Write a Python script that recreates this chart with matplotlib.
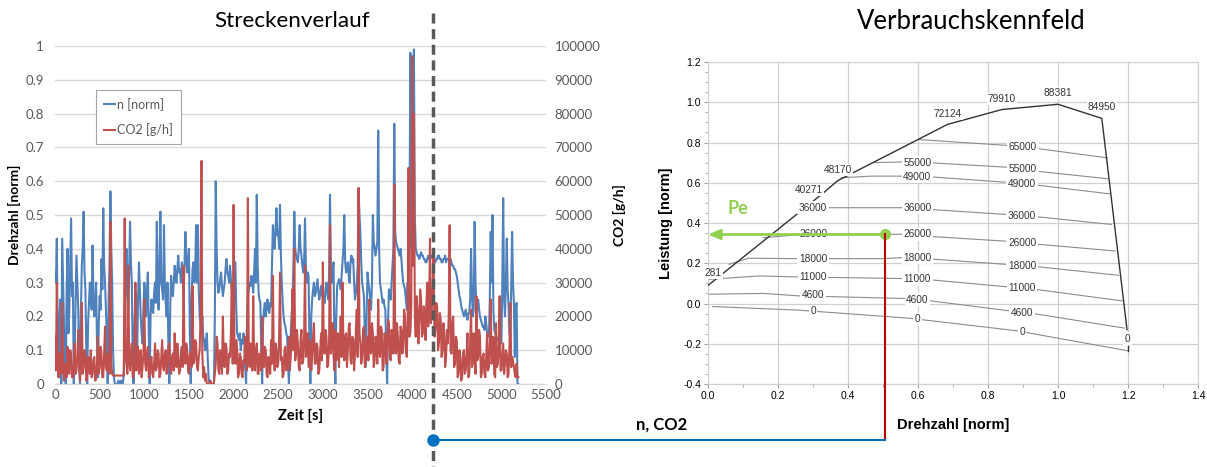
#!/usr/bin/env python3

import matplotlib
matplotlib.use("Agg")
import matplotlib.pyplot as plt
import numpy as np
from matplotlib.lines import Line2D

# Streckenverlauf: Abtastung alle 10 s (eine Zeile = 200 s)
zeit_schritt = 10
n_norm = [
    0.33, 0.30, 0.43, 0.10, 0.02, 0.20, 0.25, 0.00, 0.43, 0.30, 0.18, 0.05, 0.00, 0.28, 0.40, 0.15, 0.22, 0.35, 0.49, 0.26,
    0.30, 0.00, 0.08, 0.25, 0.38, 0.30, 0.22, 0.05, 0.00, 0.22, 0.35, 0.40, 0.51, 0.33, 0.28, 0.10, 0.00, 0.18, 0.24, 0.30,
    0.27, 0.22, 0.41, 0.26, 0.20, 0.24, 0.30, 0.12, 0.02, 0.18, 0.26, 0.22, 0.37, 0.28, 0.52, 0.35, 0.30, 0.22, 0.15, 0.00,
    0.25, 0.35, 0.57, 0.40, 0.30, 0.10, 0.02, 0.00, 0.00, 0.00, 0.00, 0.01, 0.00, 0.00, 0.01, 0.00, 0.00, 0.03, 0.12, 0.30,
    0.40, 0.28, 0.22, 0.33, 0.48, 0.36, 0.30, 0.08, 0.00, 0.18, 0.27, 0.20, 0.10, 0.25, 0.36, 0.28, 0.20, 0.15, 0.12, 0.22,
    0.30, 0.26, 0.20, 0.28, 0.33, 0.15, 0.00, 0.20, 0.25, 0.22, 0.21, 0.27, 0.30, 0.24, 0.48, 0.30, 0.22, 0.35, 0.51, 0.30,
    0.28, 0.25, 0.47, 0.30, 0.24, 0.20, 0.30, 0.10, 0.00, 0.22, 0.32, 0.28, 0.26, 0.30, 0.35, 0.32, 0.30, 0.34, 0.38, 0.33,
    0.34, 0.30, 0.36, 0.32, 0.28, 0.35, 0.45, 0.38, 0.33, 0.36, 0.40, 0.15, 0.00, 0.25, 0.34, 0.36, 0.30, 0.33, 0.47, 0.30,
    0.47, 0.28, 0.20, 0.18, 0.16, 0.20, 0.14, 0.13, 0.10, 0.12, 0.15, 0.08, 0.02, 0.00, 0.00, 0.00, 0.00, 0.00, 0.00, 0.20,
    0.60, 0.40, 0.30, 0.27, 0.28, 0.31, 0.33, 0.29, 0.26, 0.28, 0.30, 0.34, 0.37, 0.33, 0.32, 0.30, 0.35, 0.31, 0.28, 0.30,
    0.28, 0.32, 0.36, 0.22, 0.15, 0.14, 0.13, 0.15, 0.10, 0.13, 0.12, 0.15, 0.14, 0.05, 0.00, 0.18, 0.26, 0.28, 0.30, 0.29,
    0.32, 0.30, 0.27, 0.33, 0.40, 0.30, 0.56, 0.35, 0.27, 0.25, 0.24, 0.10, 0.00, 0.18, 0.22, 0.24, 0.20, 0.23, 0.25, 0.22,
    0.21, 0.24, 0.23, 0.35, 0.47, 0.42, 0.40, 0.46, 0.52, 0.44, 0.45, 0.40, 0.53, 0.38, 0.30, 0.24, 0.20, 0.18, 0.17, 0.15,
    0.14, 0.06, 0.00, 0.10, 0.15, 0.20, 0.25, 0.35, 0.51, 0.40, 0.38, 0.37, 0.36, 0.40, 0.47, 0.40, 0.38, 0.35, 0.33, 0.36,
    0.49, 0.35, 0.30, 0.33, 0.32, 0.12, 0.00, 0.20, 0.25, 0.28, 0.30, 0.26, 0.27, 0.29, 0.31, 0.27, 0.25, 0.27, 0.29, 0.26,
    0.27, 0.25, 0.24, 0.28, 0.30, 0.27, 0.25, 0.33, 0.56, 0.35, 0.30, 0.34, 0.36, 0.10, 0.00, 0.20, 0.29, 0.30, 0.31, 0.30,
    0.28, 0.32, 0.36, 0.40, 0.50, 0.36, 0.33, 0.35, 0.36, 0.32, 0.30, 0.36, 0.38, 0.36, 0.37, 0.30, 0.25, 0.27, 0.30, 0.35,
    0.58, 0.50, 0.45, 0.36, 0.30, 0.28, 0.26, 0.15, 0.05, 0.20, 0.33, 0.30, 0.28, 0.25, 0.22, 0.30, 0.50, 0.42, 0.40, 0.38,
    0.40, 0.42, 0.75, 0.40, 0.30, 0.28, 0.26, 0.24, 0.25, 0.23, 0.22, 0.10, 0.00, 0.18, 0.28, 0.27, 0.25, 0.30, 0.35, 0.40,
    0.77, 0.45, 0.42, 0.41, 0.40, 0.39, 0.38, 0.40, 0.37, 0.33, 0.30, 0.29, 0.28, 0.25, 0.22, 0.30, 0.20, 0.45, 0.98, 0.40,
    0.45, 0.60, 0.99, 0.50, 0.40, 0.39, 0.38, 0.38, 0.37, 0.38, 0.39, 0.38, 0.38, 0.37, 0.37, 0.36, 0.36, 0.37, 0.38, 0.37,
    0.37, 0.38, 0.38, 0.37, 0.37, 0.36, 0.36, 0.37, 0.37, 0.38, 0.38, 0.37, 0.37, 0.36, 0.36, 0.37, 0.37, 0.38, 0.36, 0.37,
    0.37, 0.37, 0.36, 0.37, 0.36, 0.35, 0.35, 0.34, 0.34, 0.33, 0.32, 0.30, 0.28, 0.26, 0.25, 0.23, 0.22, 0.21, 0.20, 0.21,
    0.22, 0.20, 0.19, 0.21, 0.21, 0.25, 0.40, 0.28, 0.20, 0.22, 0.48, 0.30, 0.22, 0.24, 0.25, 0.22, 0.20, 0.19, 0.18, 0.17,
    0.17, 0.16, 0.20, 0.18, 0.15, 0.15, 0.14, 0.25, 0.45, 0.30, 0.50, 0.22, 0.16, 0.15, 0.14, 0.13, 0.13, 0.14, 0.15, 0.12,
    0.12, 0.30, 0.55, 0.25, 0.20, 0.30, 0.43, 0.28, 0.23, 0.15, 0.14, 0.30, 0.45, 0.30, 0.24, 0.08, 0.22, 0.24, 0.00, 0.00,
]
co2_gh = [
    14000, 4000, 30000, 6000, 2000, 9000, 8000, 3000, 24000, 7000, 1000, 5000, 6000, 2000, 11000, 4000, 3000, 10000, 9000, 2000,
    2000, 6000, 12000, 3000, 4000, 8000, 16000, 5000, 1000, 7000, 24000, 3000, 5000, 10000, 9000, 1000, 2000, 8000, 7000, 3000,
    10000, 2000, 3000, 7000, 8000, 1000, 1500, 6000, 14000, 3000, 5000, 11000, 9000, 2000, 2000, 9000, 17000, 5000, 4000, 8000,
    9000, 3000, 48000, 6000, 3000, 2500, 2500, 2500, 2500, 2500, 2500, 2500, 2500, 2500, 2500, 2500, 2500, 2500, 49000, 8000,
    6000, 3000, 35000, 7000, 4000, 9000, 12000, 2000, 2000, 6000, 30000, 4000, 8000, 11000, 3000, 5000, 10000, 2000, 5000, 9000,
    25000, 6000, 4000, 9000, 11000, 2000, 3000, 7000, 8000, 3000, 2000, 6000, 12000, 4000, 5000, 10000, 9000, 2000, 3000, 8000,
    13000, 5000, 4000, 9000, 10000, 3000, 6000, 11000, 12000, 4000, 3000, 8000, 9000, 4000, 15000, 6000, 5000, 12000, 8000, 3000,
    4000, 9000, 11000, 5000, 35000, 8000, 6000, 12000, 10000, 4000, 3000, 9000, 9000, 5000, 29000, 6000, 7000, 13000, 12000, 5000,
    4000, 8000, 10000, 20000, 66000, 9000, 2000, 5000, 1000, 3000, 0, 0, 0, 0, 1000, 0, 0, 0, 500, 3000,
    6000, 14000, 12000, 4000, 3000, 10000, 9000, 3000, 20000, 7000, 5000, 12000, 11000, 3000, 4000, 9000, 8000, 15000, 30000, 6000,
    53000, 9000, 6000, 13000, 10000, 2000, 3000, 9000, 8000, 3000, 2000, 7000, 6000, 14000, 12000, 4000, 55000, 8000, 5000, 12000,
    9000, 4000, 26000, 7000, 4000, 10000, 12000, 3000, 3000, 9000, 8000, 4000, 20000, 6000, 5000, 11000, 10000, 3000, 2000, 8000,
    7000, 3000, 13000, 6000, 32000, 9000, 4000, 12000, 10000, 5000, 6000, 14000, 33000, 7000, 8000, 2000, 3000, 10000, 11000, 4000,
    5000, 11000, 14000, 4000, 8000, 15000, 28000, 10000, 40000, 7000, 9000, 16000, 12000, 5000, 4000, 13000, 16000, 6000, 7000, 14000,
    35000, 8000, 10000, 15000, 5000, 9000, 13000, 4000, 8000, 14000, 18000, 6000, 6000, 12000, 11000, 3000, 4000, 10000, 15000, 7000,
    36000, 10000, 9000, 16000, 14000, 5000, 6000, 13000, 47000, 9000, 12000, 18000, 8000, 4000, 16000, 7000, 10000, 15000, 5000, 12000,
    20000, 8000, 30000, 12000, 7000, 14000, 15000, 5000, 10000, 17000, 18000, 7000, 6000, 14000, 13000, 4000, 9000, 16000, 22000, 8000,
    58000, 15000, 12000, 6000, 8000, 16000, 17000, 5000, 6000, 13000, 14000, 7000, 25000, 10000, 9000, 18000, 15000, 5000, 7000, 14000,
    12000, 6000, 25000, 10000, 8000, 17000, 16000, 4000, 5000, 15000, 14000, 6000, 10000, 19000, 18000, 8000, 7000, 16000, 13000, 9000,
    59000, 12000, 9000, 18000, 14000, 7000, 6000, 17000, 16000, 9000, 11000, 22000, 20000, 10000, 8000, 19000, 64000, 14000, 15000, 23000,
    97000, 35000, 80000, 20000, 14000, 26000, 22000, 12000, 18000, 28000, 25000, 14000, 15000, 23000, 20000, 13000, 24000, 30000, 17000, 22000,
    43000, 18000, 22000, 28000, 40000, 14000, 16000, 24000, 23000, 10000, 12000, 21000, 19000, 8000, 10000, 18000, 15000, 5000, 8000, 16000,
    12000, 20000, 47000, 10000, 9000, 18000, 20000, 5000, 6000, 14000, 13000, 2000, 3000, 10000, 8000, 1000, 2000, 9000, 10000, 3000,
    4000, 9000, 15000, 2000, 3000, 12000, 22000, 5000, 6000, 15000, 10000, 3000, 26000, 7000, 8000, 16000, 14000, 2000, 3000, 8000,
    9000, 3000, 2000, 8000, 15000, 4000, 5000, 12000, 25000, 6000, 8000, 14000, 3000, 2000, 18000, 5000, 6000, 11000, 26000, 4000,
    4000, 8000, 12000, 3000, 6000, 10000, 9000, 2000, 3000, 11000, 24000, 5000, 8000, 7000, 5000, 3000, 2000, 6000, 2000, 2000,
]
zeit_s = np.arange(len(n_norm)) * zeit_schritt
zeit_marke = 4230  # gestrichelte Trennlinie

# Verbrauchskennfeld: Volllastkurve
vl_n = [0.0, 0.33, 0.37, 0.60, 0.684, 0.84, 1.0, 1.125, 1.197]
vl_p = [0.09, 0.55, 0.61, 0.815, 0.89, 0.964, 0.99, 0.92, -0.13]
vl_text = ["281", "40271", "48170", "72124", "79910", "88381", "84950"]
vl_text_n = [0.015, 0.287, 0.37, 0.684, 0.84, 1.0, 1.125]
vl_text_p = [0.154, 0.565, 0.665, 0.942, 1.017, 1.046, 0.975]

# Kennlinien gleichen Verbrauchs
kl_stufe = [65000, 55000, 49000, 36000, 26000, 18000, 11000, 4600, 0]
kl_n = [
    [0.60, 0.86, 0.95, 1.14],
    [0.47, 0.55, 0.647, 0.848, 0.946, 1.142],
    [0.38, 0.467, 0.55, 0.647, 0.848, 0.946, 1.147],
    [0.26, 0.343, 0.555, 0.647, 0.848, 0.946, 1.152],
    [0.158, 0.26, 0.343, 0.555, 0.647, 0.848, 0.946, 1.163],
    [0.06, 0.116, 0.26, 0.498, 0.555, 0.647, 0.848, 0.946, 1.173],
    [0.0, 0.147, 0.26, 0.555, 0.647, 0.848, 0.946, 1.183],
    [0.0, 0.158, 0.26, 0.565, 0.637, 0.859, 0.941, 1.189],
    [0.013, 0.26, 0.575, 0.88, 1.2],
]
kl_p = [
    [0.815, 0.785, 0.768, 0.724],
    [0.70, 0.703, 0.698, 0.678, 0.656, 0.62],
    [0.625, 0.633, 0.633, 0.628, 0.603, 0.587, 0.545],
    [0.475, 0.476, 0.476, 0.466, 0.443, 0.43, 0.393],
    [0.327, 0.342, 0.344, 0.344, 0.332, 0.31, 0.294, 0.261],
    [0.195, 0.225, 0.223, 0.223, 0.228, 0.22, 0.195, 0.182, 0.14],
    [0.12, 0.137, 0.132, 0.124, 0.116, 0.084, 0.068, 0.013],
    [0.046, 0.05, 0.038, 0.025, 0.013, -0.036, -0.053, -0.122],
    [-0.015, -0.033, -0.073, -0.135, -0.235],
]
kl_text_n = [
    [0.90],
    [0.598, 0.90],
    [0.598, 0.897],
    [0.30, 0.598, 0.897],
    [0.30, 0.598, 0.897],
    [0.30, 0.598, 0.897],
    [0.30, 0.598, 0.897],
    [0.30, 0.598, 0.897],
    [0.30, 0.598, 0.897, 1.198],
]
kl_text_p = [
    [0.777],
    [0.70, 0.668],
    [0.631, 0.595],
    [0.475, 0.475, 0.436],
    [0.343, 0.343, 0.302],
    [0.223, 0.228, 0.188],
    [0.13, 0.12, 0.076],
    [0.04, 0.018, -0.045],
    [-0.038, -0.078, -0.143, -0.175],
]

# Betriebspunkt
bp_n = 0.505
bp_p = 0.343

blau = "#4F81BD"
rot = "#C0504D"
gitter = "#D9D9D9"
grau_text = "#595959"


def main():
    fig = plt.figure(figsize=(12.07, 4.67), dpi=100)

    # ---- linkes Diagramm ----
    ax = fig.add_axes([0.0456, 0.1777, 0.4068, 0.7238])
    ax2 = ax.twinx()
    # CO2 (Sekundaerachse) liegt wie in Excel ueber der Drehzahl
    l1, = ax.plot(zeit_s, n_norm, color=blau, lw=1.5, label="n [norm]")
    l2, = ax2.plot(zeit_s, co2_gh, color=rot, lw=1.5, label="CO2 [g/h]")

    ax.set_xlim(0, 5500)
    ax.set_ylim(0, 1)
    ax2.set_ylim(0, 100000)
    ax.set_xticks(np.arange(0, 5501, 500))
    ax.set_yticks(np.arange(0, 1.01, 0.1))
    ax.set_yticklabels(["0"] + ["%.1f" % v for v in np.arange(0.1, 0.95, 0.1)] + ["1"])
    ax2.set_yticks(np.arange(0, 100001, 10000))
    ax.grid(axis="y", color=gitter, lw=1)
    ax.set_axisbelow(True)
    for a in (ax, ax2):
        for s in ("top", "left", "right"):
            a.spines[s].set_visible(False)
        a.spines["bottom"].set_color(gitter)
        a.tick_params(length=0, labelsize=9.5, colors=grau_text, labelfontfamily="Lato")
    ax.tick_params(axis="y", pad=8)
    ax2.tick_params(axis="y", pad=6)
    ax.set_xlabel("Zeit [s]", fontsize=10.5, fontweight="bold", family="Lato", labelpad=6)
    ax.set_ylabel("Drehzahl [norm]", fontsize=10, fontweight="bold", family="Lato", labelpad=3)
    ax2.set_ylabel("CO2 [g/h]", fontsize=10, fontweight="bold", family="Lato",
                   rotation=90, labelpad=9)

    leg = ax2.legend([l1, l2], ["n [norm]", "CO2 [g/h]"], loc="upper left",
                     bbox_to_anchor=(0.071, 0.888), handlelength=0.9, handletextpad=0.2,
                     labelspacing=1.0, borderpad=0.6, fancybox=False, framealpha=1,
                     prop={"family": "Lato", "size": 9})
    leg.get_frame().set_edgecolor("#A6A6A6")
    leg.get_frame().set_linewidth(0.8)
    for t in leg.get_texts():
        t.set_color(grau_text)

    fig.text(0.242, 0.955, "Streckenverlauf", ha="center", va="center",
             fontsize=16.2, family="Lato")

    # ---- rechtes Diagramm ----
    bx = fig.add_axes([0.5866, 0.1777, 0.406, 0.6895])
    bx.set_xlim(0, 1.4)
    bx.set_ylim(-0.4, 1.2)
    bx.set_xticks(np.arange(0, 1.41, 0.2))
    bx.set_yticks(np.arange(-0.4, 1.21, 0.2))
    bx.set_xticks(np.arange(0.1, 1.4, 0.2), minor=True)
    bx.set_yticks(np.arange(-0.35, 1.2, 0.05), minor=True)
    bx.xaxis.set_major_formatter(lambda v, p: "%.1f" % v)
    bx.yaxis.set_major_formatter(lambda v, p: "%.1f" % v if abs(v) > 1e-9 else "0.0")
    bx.grid(which="major", color="#D0D0D0", lw=0.9)
    bx.set_axisbelow(True)
    for s in bx.spines.values():
        s.set_color("#D0D0D0")
    bx.tick_params(which="major", length=3, color="#A0A0A0", labelsize=7.5,
                   labelfontfamily="Liberation Sans", pad=2)
    bx.tick_params(which="minor", length=2, color="#A0A0A0")
    bx.set_xlabel("Drehzahl [norm]", fontsize=10.5, fontweight="bold",
                  family="Liberation Sans", labelpad=12)
    bx.set_ylabel("Leistung [norm]", fontsize=10.5, fontweight="bold",
                  family="Liberation Sans", labelpad=7)

    for stufe, xs, ys, txn, txp in zip(kl_stufe, kl_n, kl_p, kl_text_n, kl_text_p):
        bx.plot(xs, ys, color="#8C8C8C", lw=0.8, zorder=2)
        for tn, tp in zip(txn, txp):
            bx.text(tn, tp, str(stufe), ha="center", va="center", fontsize=7.3,
                    family="Liberation Sans", color="#333333", zorder=4,
                    bbox=dict(boxstyle="square,pad=0.15", fc="white", ec="none"))

    bx.plot(vl_n, vl_p, color="#333333", lw=1.0, zorder=3)
    bx.plot([1.2, 1.2], [-0.21, -0.235], color="#333333", lw=1.0, zorder=3)
    for t, tn, tp in zip(vl_text, vl_text_n, vl_text_p):
        bx.text(tn, tp, t, ha="center", va="center", fontsize=7.3,
                family="Liberation Sans", color="#333333", zorder=4,
                bbox=dict(boxstyle="square,pad=0.1", fc="white", ec="none"))

    gruen = "#92D050"
    bx.annotate("", xy=(0.0, bp_p), xytext=(bp_n, bp_p),
                arrowprops=dict(arrowstyle="-|>,head_length=0.7,head_width=0.3",
                                color=gruen, lw=2, shrinkA=0, shrinkB=0), zorder=5)
    bx.plot([bp_n], [bp_p], "o", color=gruen, ms=7, zorder=6)
    bx.text(0.086, 0.47, "Pe", color=gruen, fontsize=13, fontweight="bold",
            family="Lato", ha="center", va="center", zorder=6)

    fig.text(0.805, 0.955, "Verbrauchskennfeld", ha="center", va="center",
             fontsize=18.5, family="Lato")

    # ---- Verbindungslinien ----
    inv = fig.transFigure.inverted()
    x_strich = inv.transform(ax.transData.transform((zeit_marke, 0)))[0]
    bp_fig = inv.transform(bx.transData.transform((bp_n, bp_p)))
    y_verb = 1 - 440 / 467

    fig.add_artist(Line2D([x_strich, x_strich], [1 - 13 / 467, 0], transform=fig.transFigure,
                          color="#595959", lw=2.5, linestyle=(0, (2.9, 1.6)), zorder=1))
    fig.add_artist(Line2D([bp_fig[0], bp_fig[0]], [bp_fig[1], y_verb], transform=fig.transFigure,
                          color="#C00000", lw=1.5, zorder=5))
    fig.add_artist(Line2D([x_strich, bp_fig[0]], [y_verb, y_verb], transform=fig.transFigure,
                          color="#0070C0", lw=1.5, zorder=5))
    fig.add_artist(Line2D([x_strich], [y_verb], transform=fig.transFigure, marker="o",
                          color="#0070C0", ms=8, zorder=6))
    fig.text(0.548, 1 - 425 / 467, "n, CO2", ha="center", va="center", fontsize=12,
             fontweight="bold", family="Lato")

    fig.savefig("out.png", dpi=100)


if __name__ == "__main__":
    main()
